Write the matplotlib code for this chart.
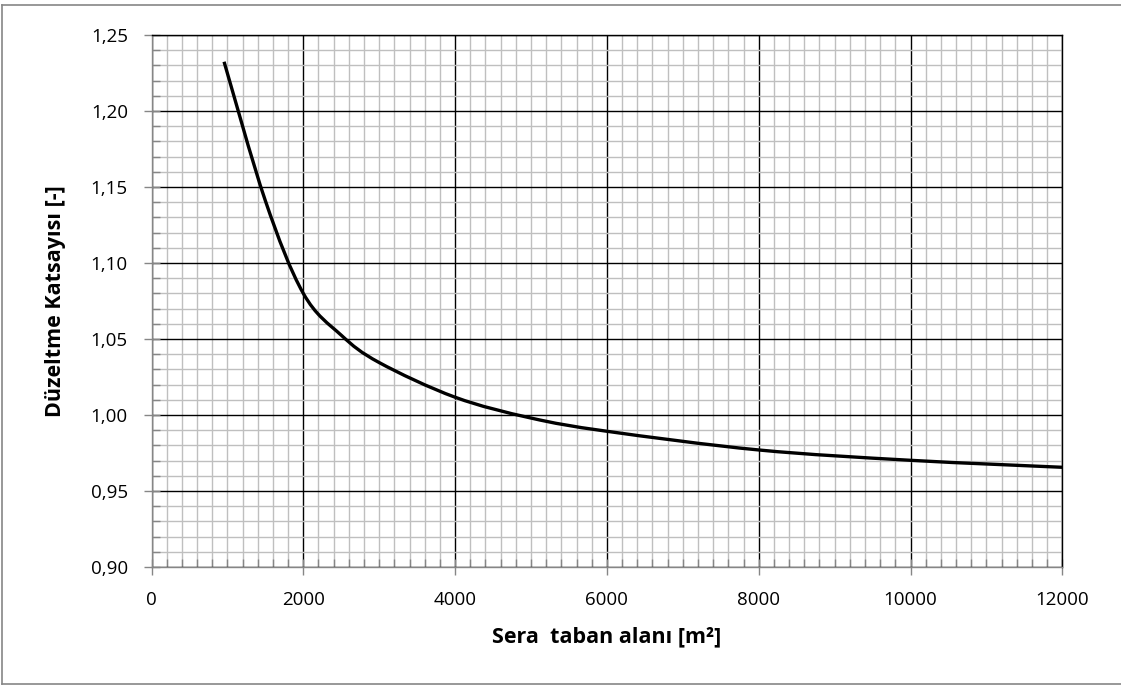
import matplotlib
matplotlib.use("Agg")
import matplotlib.pyplot as plt
from matplotlib.ticker import MultipleLocator, FuncFormatter
from matplotlib.lines import Line2D
from matplotlib.path import Path
from matplotlib.patches import PathPatch

# values
area = [956, 1500, 2000, 2500, 3000, 4000, 5000, 6000, 8000, 10000, 12000]
factor = [1.2324, 1.1410, 1.0800, 1.0525, 1.0345, 1.0117, 0.9980, 0.9893, 0.9770, 0.9702, 0.9656]

x_ticks = [0, 2000, 4000, 6000, 8000, 10000, 12000]
y_ticks = [0.90, 0.95, 1.00, 1.05, 1.10, 1.15, 1.20, 1.25]


def smooth_path(xs, ys):
    # Excel style "smoothed line": Catmull-Rom segments as cubic beziers
    pts = list(zip(xs, ys))
    verts = [pts[0]]
    codes = [Path.MOVETO]
    n = len(pts)
    for i in range(n - 1):
        p0 = pts[i - 1] if i > 0 else pts[i]
        p1 = pts[i]
        p2 = pts[i + 1]
        p3 = pts[i + 2] if i + 2 < n else pts[i + 1]
        c1 = (p1[0] + (p2[0] - p0[0]) / 6, p1[1] + (p2[1] - p0[1]) / 6)
        c2 = (p2[0] - (p3[0] - p1[0]) / 6, p2[1] - (p3[1] - p1[1]) / 6)
        verts += [c1, c2, p2]
        codes += [Path.CURVE4] * 3
    return Path(verts, codes)


plt.rcParams['font.family'] = ['Open Sans', 'DejaVu Sans']

fig = plt.figure(figsize=(11.21, 6.87), dpi=100)
ax = fig.add_axes([151.5 / 1121, 1 - 567 / 687, (1062.3 - 151.5) / 1121, (567 - 35) / 687])

ax.set_xlim(0, 12000)
ax.set_ylim(0.90, 1.25)
ax.set_xticks(x_ticks)
ax.set_yticks(y_ticks)
ax.xaxis.set_minor_locator(MultipleLocator(200))
ax.yaxis.set_minor_locator(MultipleLocator(0.01))
ax.yaxis.set_major_formatter(FuncFormatter(lambda v, p: f"{v:.2f}".replace(".", ",")))

ax.grid(which='minor', color='#BFBFBF', linewidth=1.0, zorder=0)
ax.grid(which='major', color='black', linewidth=1.0, zorder=1)
ax.set_axisbelow(True)

ax.add_patch(PathPatch(smooth_path(area, factor), facecolor='none', edgecolor='black',
                       linewidth=2.4, capstyle='butt', zorder=3))

for side in ['left', 'bottom']:
    ax.spines[side].set_color('#868686')
    ax.spines[side].set_linewidth(1.0)
for side in ['top', 'right']:
    ax.spines[side].set_color('black')
    ax.spines[side].set_linewidth(1.0)

ax.tick_params(which='major', direction='inout', length=12, width=1.0, color='#868686',
               labelsize=13.5)
ax.tick_params(which='minor', direction='in', length=6, width=1.0, color='#868686')
ax.tick_params(axis='y', which='major', pad=11)
ax.tick_params(axis='x', which='major', pad=11)

ax.set_xlabel("Sera  taban alanı [m²]", fontsize=15.5, fontweight='bold')
ax.set_ylabel("Düzeltme Katsayısı [-]", fontsize=15.5, fontweight='bold')
ax.xaxis.set_label_coords(0.5, -(626 - 567) / 532)
ax.yaxis.set_label_coords(-(151.5 - 66) / (1062.3 - 151.5), 0.5)

# outer chart border
border = dict(color='#868686', linewidth=1.2, transform=fig.transFigure)
fig.add_artist(Line2D([2 / 1121, 2 / 1121], [1 - 5 / 687, 1 - 684 / 687], **border))
fig.add_artist(Line2D([2 / 1121, 1.0], [1 - 5 / 687, 1 - 5 / 687], **border))
fig.add_artist(Line2D([2 / 1121, 1.0], [1 - 684 / 687, 1 - 684 / 687], **border))

fig.savefig("out.png", dpi=100)
